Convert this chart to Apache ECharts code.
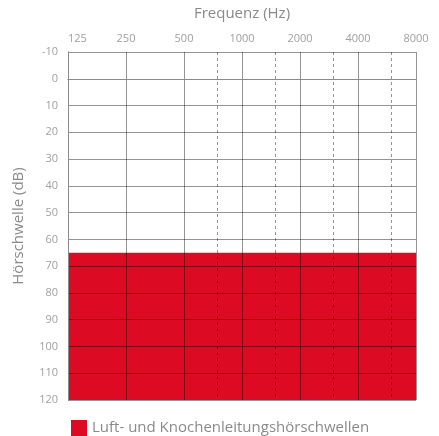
<!DOCTYPE html>
<html>
<head>
<meta charset="utf-8">
<script src="https://cdn.jsdelivr.net/npm/echarts@6/dist/echarts.min.js"></script>
<style>
  html, body { margin: 0; padding: 0; background: #fff; }
  #chart { width: 439px; height: 436px; }
</style>
</head>
<body>
<div id="chart"></div>
<script>
// Frequenzen (Hz) der Hauptlinien und der gestrichelten Zwischenlinien
const freqLabels = ['125', '250', '500', '1000', '2000', '4000', '8000'];
const midFreqs = [750, 1500, 3000, 6000];
// Hörschwelle: Bereich von 65 dB bis 120 dB
const thresholdDb = [65, 120];
const seriesName = 'Luft- und Knochenleitungshörschwellen';

const RED = '#dc0a23';
const GRID_LINE = 'rgba(0,0,0,0.42)';
const GRAY = '#8a8a8a';
const FONT = 'Open Sans';

// Frequenz -> Oktavposition (125 Hz = 0)
const oct = f => Math.log2(f / 125);

const chart = echarts.init(document.getElementById('chart'));

const option = {
  animation: false,
  textStyle: { fontFamily: FONT },
  grid: { left: 68, right: 23, top: 52, bottom: 36 },
  legend: {
    left: 66, top: 415,
    icon: 'rect', itemWidth: 16, itemHeight: 16, itemGap: 8,
    textStyle: { color: GRAY, fontSize: 15, fontFamily: FONT },
    data: [seriesName]
  },
  xAxis: [
    {
      type: 'value', position: 'top', min: 0, max: 6, interval: 1, z: 5,
      name: 'Frequenz (Hz)', nameLocation: 'middle', nameGap: 31,
      nameTextStyle: { color: GRAY, fontSize: 15, fontFamily: FONT },
      axisLine: { show: true, lineStyle: { color: GRAY } },
      axisTick: { show: false },
      axisLabel: {
        color: '#a0a0a0', fontSize: 11, margin: 8, alignMinLabel: 'left',
        formatter: v => freqLabels[Math.round(v)]
      },
      splitLine: { show: true, lineStyle: { color: GRID_LINE, width: 1 } }
    },
    {
      type: 'value', position: 'bottom', min: 0, max: 6, z: 6,
      axisLine: { show: true, lineStyle: { color: GRAY } },
      axisTick: { show: false }, axisLabel: { show: false }, splitLine: { show: false }
    }
  ],
  yAxis: [
    {
      type: 'value', inverse: true, min: -10, max: 120, interval: 10, z: 5,
      name: 'Hörschwelle (dB)', nameLocation: 'middle', nameGap: 42,
      nameTextStyle: { color: GRAY, fontSize: 15, fontFamily: FONT },
      axisLine: { show: true, lineStyle: { color: GRAY } },
      axisTick: { show: false },
      axisLabel: { color: '#a0a0a0', fontSize: 11, margin: 10 },
      splitLine: { show: true, lineStyle: { color: GRID_LINE, width: 1 } }
    },
    {
      type: 'value', position: 'right', inverse: true, min: -10, max: 120, z: 6,
      axisLine: { show: true, lineStyle: { color: GRAY } },
      axisTick: { show: false }, axisLabel: { show: false }, splitLine: { show: false }
    }
  ],
  series: [
    {
      name: seriesName,
      type: 'line',
      data: [],
      itemStyle: { color: RED },
      lineStyle: { color: RED },
      z: 1,
      markArea: {
        silent: true,
        itemStyle: { color: RED },
        data: [[
          { xAxis: 0, yAxis: thresholdDb[0] },
          { xAxis: 6, yAxis: thresholdDb[1] }
        ]]
      }
    },
    {
      name: 'mid',
      type: 'line',
      data: [],
      z: 4,
      markLine: {
        silent: true,
        symbol: 'none',
        label: { show: false },
        lineStyle: { color: GRID_LINE, type: [3, 3], width: 1 },
        data: midFreqs.map(f => ({ xAxis: oct(f) }))
      }
    }
  ]
};

chart.setOption(option);
window.addEventListener('resize', () => chart.resize());
</script>
</body>
</html>
